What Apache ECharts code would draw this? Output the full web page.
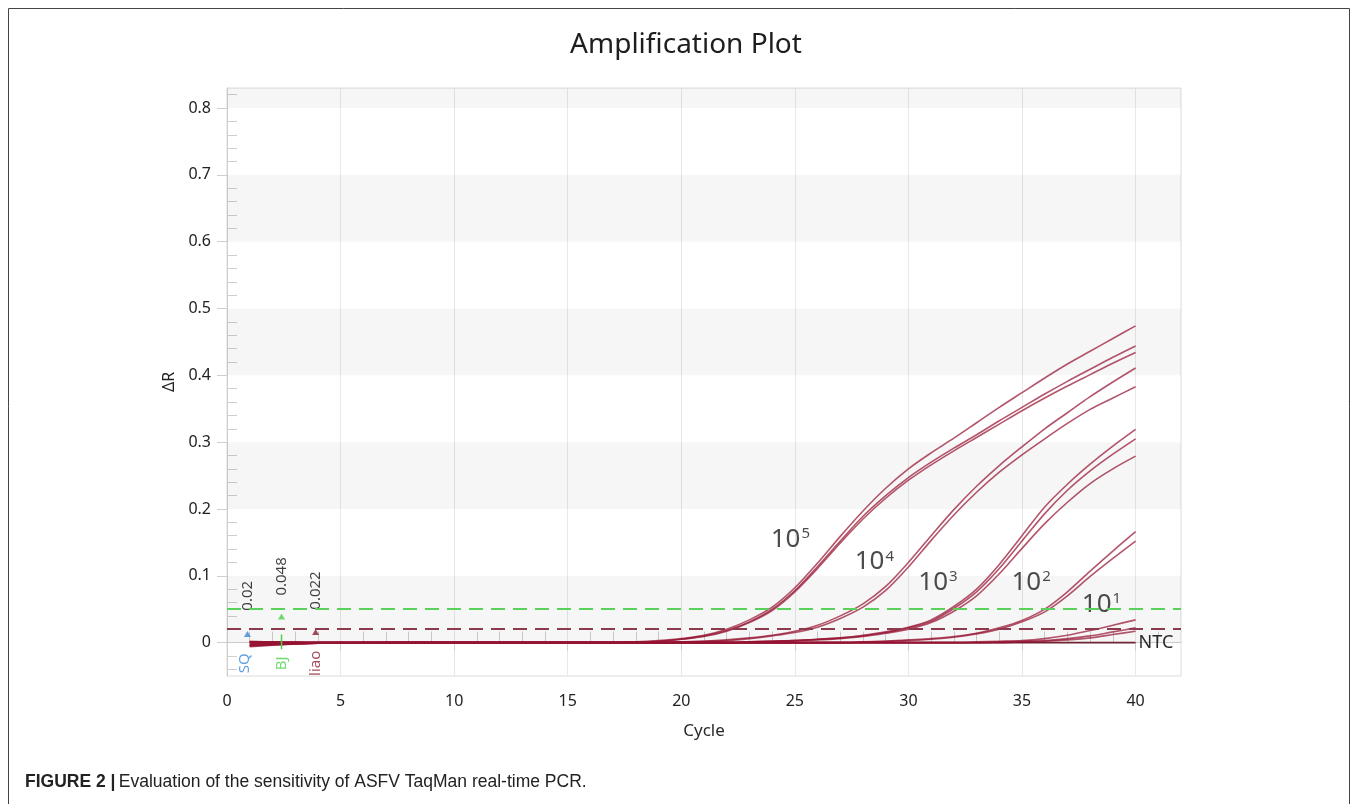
<!DOCTYPE html>
<html><head><meta charset="utf-8">
<script src="https://cdn.jsdelivr.net/npm/echarts@6/dist/echarts.min.js"></script>
<style>html,body{margin:0;padding:0;background:#fff;}#c{width:1358px;height:804px;}</style>
</head><body><div id="c"></div>
<script>
// ---------- data ----------
const cycles = [1,2,3,4,5,6,7,8,9,10,11,12,13,14,15,16,17,18,19,20,21,22,23,24,25,26,27,28,29,30,31,32,33,34,35,36,37,38,39,40];

// 10^5 (three replicates)
const e5a = [-0.005,-0.003,-0.002,-0.001,-0.001,0,0,0,0,0, 0,0,0,0,0,0,0,0.001,0.003,0.006, 0.011,0.020,0.034,0.053,0.082,0.119,0.159,0.197,0.231,0.260, 0.284,0.306,0.329,0.352,0.374,0.396,0.417,0.436,0.455,0.474];
const e5b = [-0.006,-0.004,-0.002,-0.001,0,0,0,0,0,0, 0,0,0,0,0,0,0,0.001,0.002,0.005, 0.010,0.018,0.031,0.050,0.078,0.114,0.152,0.189,0.220,0.247, 0.270,0.291,0.311,0.332,0.352,0.372,0.391,0.409,0.427,0.444];
const e5c = [-0.004,-0.002,-0.001,0,0,0,0,0,0,0, 0,0,0,0,0,0,0,0.001,0.002,0.005, 0.009,0.017,0.030,0.048,0.076,0.111,0.149,0.185,0.216,0.243, 0.266,0.287,0.307,0.327,0.347,0.366,0.384,0.401,0.418,0.434];
// 10^4
const e4a = [-0.003,-0.002,-0.001,-0.001,-0.001,0,0,0,0,0, 0,0,0,0,0,0,0,0,0,0.001, 0.002,0.004,0.007,0.011,0.017,0.026,0.040,0.058,0.084,0.120, 0.160,0.199,0.234,0.265,0.293,0.320,0.344,0.368,0.390,0.411];
const e4b = [0.001,0.001,0,0,0,0,0,0,0,0, 0,0,0,0,0,0,0,0,0,0.001, 0.002,0.003,0.006,0.010,0.015,0.023,0.036,0.053,0.078,0.113, 0.153,0.191,0.225,0.255,0.281,0.305,0.328,0.349,0.366,0.383];
// 10^3
const e3a = [-0.005,-0.003,-0.002,-0.001,0,0,0,0,0,0, 0,0,0,0,0,0,0,0,0,0, 0,0,0.001,0.002,0.003,0.005,0.007,0.011,0.016,0.023, 0.034,0.054,0.080,0.117,0.160,0.203,0.237,0.267,0.294,0.319];
const e3b = [-0.002,-0.001,0,0,0,0,0,0,0,0, 0,0,0,0,0,0,0,0,0,0, 0,0,0.001,0.002,0.003,0.005,0.007,0.010,0.015,0.022, 0.032,0.051,0.076,0.111,0.152,0.193,0.228,0.257,0.282,0.305];
const e3c = [0.002,0.001,0.001,0,0,0,0,0,0,0, 0,0,0,0,0,0,0,0,0,0, 0,0,0.001,0.002,0.003,0.004,0.006,0.009,0.014,0.020, 0.030,0.047,0.070,0.103,0.141,0.178,0.210,0.238,0.260,0.279];
// 10^2
const e2a = [-0.003,-0.002,-0.001,0,0,-0.001,0,0,0,0, 0,0,0,0,0,0,0,0,0,0, 0,0,0,0,0,0,0,0.001,0.002,0.004, 0.006,0.009,0.014,0.022,0.033,0.050,0.076,0.107,0.137,0.166];
const e2b = [0.001,0,0,0,0,0,0,0,0,0, 0,0,0,0,0,0,0,0,0,0, 0,0,0,0,0,0,0,0.001,0.002,0.003, 0.005,0.008,0.013,0.020,0.031,0.046,0.070,0.099,0.126,0.152];
// 10^1
const e1a = [-0.004,-0.003,-0.002,-0.001,-0.001,-0.001,0,0,0,0, 0,0,0,0,0,0,0,0,0,0, 0,0,0,0,0,0,0,0,0,0, 0,0,0.001,0.002,0.003,0.006,0.011,0.018,0.026,0.034];
const e1b = [-0.001,0,0,0,0,0,0,0,0,0, 0,0,0,0,0,0,0,0,0,0, 0,0,0,0,0,0,0,0,0,0, 0,0,0,0.001,0.002,0.003,0.006,0.010,0.016,0.022];
const e1c = [0.001,0.001,0,0,0,0,0,0,0,0, 0,0,0,0,0,0,0,0,0,0, 0,0,0,0,0,0,0,0,0,0, 0,0,0,0,0.001,0.002,0.004,0.007,0.012,0.017];
// no-template control
const ntc = [0,0,0,0,0,0,0,0,0,0, 0,0,0,0,0,0,0,0,0,0, 0,0,0,0,0,0,0,0,0,0, 0,0,0,0,0,0,0,0,0,0];

// thresholds (ΔR) of the three analysis settings
const thresholdNames  = ['SQ', 'BJ', 'liao'];
const thresholdValues = [0.02, 0.048, 0.022];
const drawnThresholds = [0.048, 0.022];

// dilution labels
const dilutionExponents = ['5', '4', '3', '2', '1'];
const dilutionLabelCycle = [24.8, 28.5, 31.3, 35.4, 38.5];
const dilutionLabelDR    = [0.154, 0.121, 0.090, 0.090, 0.057];

// axis ticks
const xTicks = [0, 5, 10, 15, 20, 25, 30, 35, 40];
const yTicks = [0, 0.1, 0.2, 0.3, 0.4, 0.5, 0.6, 0.7, 0.8];
const yRange = [-0.05, 0.83];
const xRange = [0, 42];

// ---------- derived ----------
const xMinor = []; for (let k = 1; k <= 41; k++) if (k % 5) xMinor.push(k);
const yMinor = []; for (let k = -2; k <= 41; k++) if (k % 5) yMinor.push(Math.round(k * 2) / 100);
const bands = [];
for (let i = 0; i < yTicks.length; i += 2) {
  const lo = yTicks[i], hi = i + 1 < yTicks.length ? yTicks[i + 1] : yRange[1];
  bands.push([{ yAxis: lo }, { yAxis: hi }]);
}

const FONT = "'Noto Sans', 'DejaVu Sans', sans-serif";
const CAPFONT = "'Liberation Sans Narrow', 'Liberation Sans', Arial, sans-serif";
const AXC = '#cfcfcf';
const curveColor = 'rgba(150,20,50,0.72)';

const curves = [e5a, e5b, e5c, e4a, e4b, e3a, e3b, e3c, e2a, e2b, e1a, e1b, e1c];
const series = [];

series.push({
  type: 'line', name: 'NTC', silent: true, animation: false,
  data: cycles.map((x, i) => [x, ntc[i]]),
  symbol: 'none', lineStyle: { width: 1.6, color: '#6d2433' },
  endLabel: { show: true, formatter: 'NTC', color: '#2a2a2a', fontSize: 18, fontFamily: FONT, distance: 3 },
  markArea: { silent: true, z: 1, itemStyle: { color: 'rgba(0,0,0,0.037)' }, data: bands },
  markLine: {
    silent: true, symbol: 'none', label: { show: false }, animation: false,
    data: [
      { yAxis: drawnThresholds[0], lineStyle: { color: '#5ad25a', width: 2, type: [14, 8] } },
      { yAxis: drawnThresholds[1], lineStyle: { color: '#8e3a4d', width: 2, type: [14, 8] } }
    ]
  }
});

curves.forEach((arr, j) => series.push({
  type: 'line', name: 'c' + j, silent: true, animation: false,
  data: cycles.map((x, i) => [x, arr[i]]),
  symbol: 'none', smooth: 0.3,
  lineStyle: { width: 1.6, color: curveColor }
}));

// threshold markers (triangles) and rotated labels
const markerCycle = [0.9, 2.4, 3.9];
const markerColors = ['#3b8ad8', '#4fd14f', '#8b2035'];
const markerTriY = [0.013, 0.039, 0.016];
series.push({
  type: 'scatter', silent: true, animation: false, symbol: 'triangle', symbolSize: [7, 6],
  data: markerCycle.map((x, i) => ({ value: [x, markerTriY[i]], itemStyle: { color: markerColors[i] } }))
});
series.push({
  type: 'scatter', silent: true, animation: false, symbolSize: 1, itemStyle: { color: 'rgba(0,0,0,0)' },
  data: [
    ...markerCycle.map((x, i) => ({ value: [x, [0.070, 0.099, 0.078][i]],
      label: { show: true, position: 'inside', rotate: 90, formatter: String(thresholdValues[i]), color: '#111', fontSize: 15, fontFamily: FONT } })),
    ...markerCycle.map((x, i) => ({ value: [x - (i === 0 ? 0.1 : 0), -0.031],
      label: { show: true, position: 'inside', rotate: 90, formatter: thresholdNames[i], color: markerColors[i], fontSize: 15, fontFamily: FONT } }))
  ]
});
series.push({
  type: 'line', silent: true, animation: false, symbol: 'none',
  data: [[markerCycle[1], -0.01], [markerCycle[1], 0.012]],
  lineStyle: { color: '#4fd14f', width: 1.5 }
});

// dilution labels
series.push({
  type: 'scatter', silent: true, animation: false, symbolSize: 1, itemStyle: { color: 'rgba(0,0,0,0)' },
  data: dilutionExponents.map((e, i) => ({ value: [dilutionLabelCycle[i], dilutionLabelDR[i]], e })),
  label: {
    show: true, position: 'inside',
    formatter: p => '{b|10}{s|' + p.data.e + '}',
    rich: {
      b: { fontSize: 26, color: '#1e1e1e', fontFamily: FONT },
      s: { fontSize: 15, color: '#1e1e1e', fontFamily: FONT, verticalAlign: 'top', padding: [0, 0, 0, 1] }
    }
  }
});

const chart = echarts.init(document.getElementById('c'), null, { renderer: 'canvas' });
chart.setOption({
  animation: false,
  backgroundColor: '#fff',
  grid: { left: 227, right: 177, top: 88, bottom: 128, show: true, borderColor: '#dcdcdc', borderWidth: 1, backgroundColor: 'transparent' },
  xAxis: [
    { type: 'value', min: xRange[0], max: xRange[1], interval: 5,
      name: 'Cycle', nameLocation: 'middle', nameGap: 47,
      nameTextStyle: { fontSize: 17, color: '#2a2a2a', fontFamily: FONT },
      axisLine: { show: true, lineStyle: { color: AXC } },
      axisTick: { show: true, inside: false, length: 8, lineStyle: { color: AXC }, customValues: xTicks },
      axisLabel: { customValues: xTicks, margin: 17, fontSize: 16, color: '#222', fontFamily: FONT },
      splitLine: { show: true, lineStyle: { color: '#e8e8e8' } } },
    { type: 'value', min: xRange[0], max: xRange[1], position: 'bottom',
      axisLine: { show: false }, axisLabel: { show: false }, splitLine: { show: false },
      axisTick: { show: true, inside: true, length: 11, lineStyle: { color: AXC }, customValues: xMinor } }
  ],
  yAxis: [
    { type: 'value', min: yRange[0], max: yRange[1],
      name: 'ΔR', nameLocation: 'middle', nameGap: 49,
      nameTextStyle: { fontSize: 16, color: '#222', fontFamily: FONT },
      axisLine: { show: true, lineStyle: { color: AXC } },
      axisTick: { show: true, inside: false, length: 10, lineStyle: { color: AXC }, customValues: yTicks },
      axisLabel: { customValues: yTicks, margin: 16, fontSize: 16, color: '#222', fontFamily: FONT,
        formatter: v => (v === 0 ? '0' : v.toFixed(1)) },
      splitLine: { show: false } },
    { type: 'value', min: yRange[0], max: yRange[1], position: 'left',
      axisLine: { show: false }, axisLabel: { show: false }, splitLine: { show: false },
      axisTick: { show: true, inside: true, length: 10, lineStyle: { color: AXC }, customValues: yMinor } }
  ],
  series: series,
  graphic: [
    { type: 'rect', silent: true, shape: { x: 8.5, y: 8.5, width: 1341, height: 820 }, style: { fill: 'none', stroke: '#444', lineWidth: 1 } },
    { type: 'text', silent: true, x: 686, y: 45, style: { text: 'Amplification Plot', fontSize: 28, fontFamily: FONT, fill: '#1e1e1e', align: 'center', verticalAlign: 'middle' } },
    { type: 'text', silent: true, x: 25, y: 782, style: {
        text: '{b|FIGURE 2 |} {r|Evaluation of the sensitivity of ASFV TaqMan real-time PCR.}',
        verticalAlign: 'middle',
        rich: {
          b: { fontWeight: 'bold', fontSize: 17.5, fontFamily: CAPFONT, fill: '#222' },
          r: { fontSize: 17.5, fontFamily: CAPFONT, fill: '#222' }
        } } }
  ]
});
</script></body></html>
